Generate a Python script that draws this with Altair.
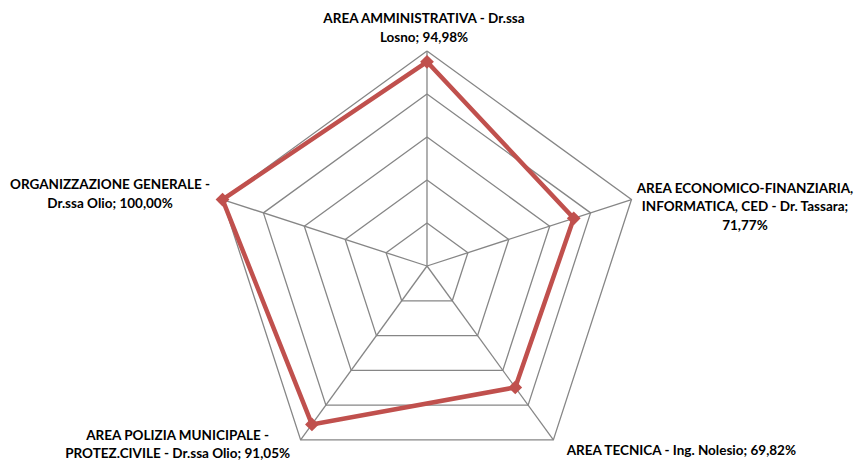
import altair as alt
import pandas as pd

# ---- data ----
categories = [
    "AREA AMMINISTRATIVA - Dr.ssa Losno",
    "AREA ECONOMICO-FINANZIARIA, INFORMATICA, CED - Dr. Tassara",
    "AREA TECNICA - Ing. Nolesio",
    "AREA POLIZIA MUNICIPALE - PROTEZ.CIVILE - Dr.ssa Olio",
    "ORGANIZZAZIONE GENERALE - Dr.ssa Olio",
]
values = [94.98, 71.77, 69.82, 91.05, 100.00]
label_texts = [
    "AREA AMMINISTRATIVA - Dr.ssa\nLosno; 94,98%",
    "AREA ECONOMICO-FINANZIARIA,\nINFORMATICA, CED - Dr. Tassara;\n71,77%",
    "AREA TECNICA - Ing. Nolesio; 69,82%",
    "AREA POLIZIA MUNICIPALE -\nPROTEZ.CIVILE - Dr.ssa Olio; 91,05%",
    "ORGANIZZAZIONE GENERALE -\nDr.ssa Olio; 100,00%",
]
ring_levels = [20, 40, 60, 80, 100]
max_value = 100

n = len(categories)

# ---- tables built from the arrays ----
series_df = pd.DataFrame(
    [{"i": k % n, "ord": k, "r": values[k % n], "cat": categories[k % n]} for k in range(n + 1)]
)
ring_df = pd.DataFrame(
    [{"i": k % n, "ord": k, "r": lvl, "ring": lvl} for lvl in ring_levels for k in range(n + 1)]
)
spoke_df = pd.DataFrame([{"i": k, "r": max_value} for k in range(n)])
label_df = pd.DataFrame([{"i": k, "r": max_value, "label": label_texts[k]} for k in range(n)])

calc = dict(
    x=f"datum.r/{max_value}*sin(datum.i*2*PI/{n})",
    y=f"datum.r/{max_value}*cos(datum.i*2*PI/{n})",
    x0="0",
    y0="0",
)

xs = alt.Scale(domain=[-1.9488, 1.9907], nice=False, zero=False)
ys = alt.Scale(domain=[-0.9116, 1.2], nice=False, zero=False)
X = alt.X("x:Q", scale=xs, axis=None)
Y = alt.Y("y:Q", scale=ys, axis=None)

GRID = "#868686"
RED = "#C0504D"

rings = alt.Chart(ring_df).transform_calculate(**calc).mark_line(
    color=GRID, strokeWidth=1.3
).encode(x=X, y=Y, detail="ring:N", order="ord:Q")

spokes = alt.Chart(spoke_df).transform_calculate(**calc).mark_rule(
    color=GRID, strokeWidth=1.3
).encode(x=X, y=Y, x2="x0:Q", y2="y0:Q")

line = alt.Chart(series_df).transform_calculate(**calc).mark_line(
    color=RED, strokeWidth=4.5, strokeJoin="miter"
).encode(x=X, y=Y, order="ord:Q")

points = alt.Chart(series_df).transform_filter("datum.ord < 5").transform_calculate(**calc).mark_point(
    shape="diamond", filled=True, size=190, color=RED, opacity=1
).encode(x=X, y=Y)

label_style = [
    dict(align="center", dx=-3, dy=-32),
    dict(align="center", dx=113.5, dy=-11),
    dict(align="center", dx=128, dy=11),
    dict(align="center", dx=-123, dy=-4),
    dict(align="center", dx=-112.5, dy=-14.5),
]
label_layers = []
for k, st in enumerate(label_style):
    label_layers.append(
        alt.Chart(label_df).transform_filter(f"datum.i == {k}").transform_calculate(**calc).mark_text(
            font="Lato", fontWeight="bold", fontSize=13.5, color="#000000",
            lineBreak="\n", lineHeight=18.5, baseline="middle", **st
        ).encode(x=X, y=Y, text="label:N")
    )

chart = alt.layer(rings, spokes, line, points, *label_layers).properties(
    width=847, height=454, padding=0, autosize=alt.AutoSizeParams(type="none"),
    background="white",
).configure_view(stroke=None)

chart.save("out.html", embed_options={"renderer": "svg", "actions": False})
